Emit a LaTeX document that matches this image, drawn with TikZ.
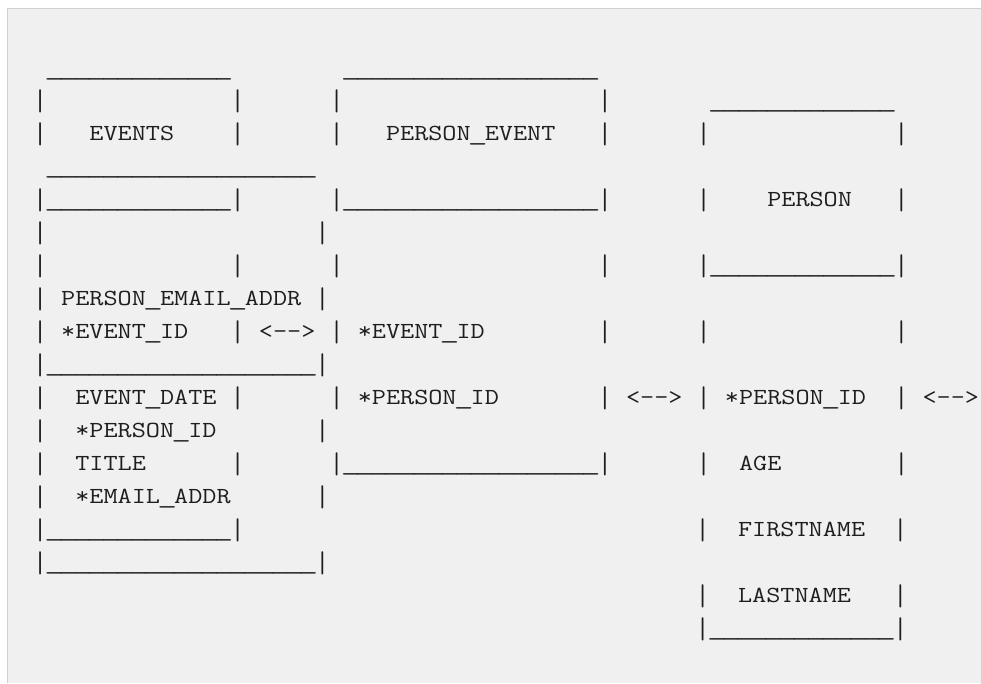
\documentclass[tikz,border=0pt]{standalone}
\usepackage{graphicx}
\usepackage{xcolor}
\definecolor{codebg}{RGB}{240,240,240}
\definecolor{codeframe}{RGB}{208,208,208}
\definecolor{codeink}{RGB}{30,30,30}
% stretch the typewriter letters to the column pitch of the sketch
\newcommand{\asc}[1]{\scalebox{1.1921}[1]{#1}}
% one underscore cell, widened so that a run reads as one line
\newcommand{\us}{\makebox[\fontcharwd\font`\_][c]{\scalebox{1.4}[1]{\_}}}
\newcommand{\uline}[1]{\foreach \k in {1,...,#1}{\us}}
% taller bar, as in the sketch
\newcommand{\vb}{\raisebox{-0.13em}{\scalebox{1}[1.3]{|}}}

\begin{document}
\begin{tikzpicture}[x=1pt, y=-1pt]
\tikzset{ascrow/.style={anchor=base west, inner sep=0pt, outer sep=0pt, text=codeink, font=\ttfamily\fontsize{23}{23}\selectfont}}
\useasboundingbox (0,0) rectangle (981,683);
\fill[white] (0,0) rectangle (981,683);
\fill[codebg] (7,8) rectangle (981,683);
\draw[codeframe, line width=1pt] (7.5,683) -- (7.5,8.5) -- (981,8.5);
\node[ascrow] (r1) at (47.1,75.0) {\asc{\uline{13}~~~~~~~~\uline{18}}};
\node[ascrow] (r2) at (33,107.9) {\asc{\vb~~~~~~~~~~~~~\vb~~~~~~\vb~~~~~~~~~~~~~~~~~~\vb~~~~~~~\uline{13}}};
\node[ascrow] (r3) at (33,140.9) {\asc{\vb~~~EVENTS~~~~\vb~~~~~~\vb~~~PERSON\us EVENT~~~\vb~~~~~~\vb~~~~~~~~~~~~~\vb}};
\node[ascrow] (r4) at (47.1,173.8) {\asc{\uline{19}}};
\node[ascrow] (r5) at (33,206.8) {\asc{\vb\uline{13}\vb~~~~~~\vb\uline{18}\vb~~~~~~\vb~~~~PERSON~~~\vb}};
\node[ascrow] (r6) at (33,239.7) {\asc{\vb~~~~~~~~~~~~~~~~~~~\vb}};
\node[ascrow] (r7) at (33,272.6) {\asc{\vb~~~~~~~~~~~~~\vb~~~~~~\vb~~~~~~~~~~~~~~~~~~\vb~~~~~~\vb\uline{13}\vb}};
\node[ascrow] (r8) at (33,305.6) {\asc{\vb~PERSON\us EMAIL\us ADDR~\vb}};
\node[ascrow] (r9) at (33,338.5) {\asc{\vb~*EVENT\us ID~~~\vb~<-\kern0pt->~\vb~*EVENT\us ID~~~~~~~~\vb~~~~~~\vb~~~~~~~~~~~~~\vb}};
\node[ascrow] (r10) at (33,371.5) {\asc{\vb\uline{19}\vb}};
\node[ascrow] (r11) at (33,404.4) {\asc{\vb~~EVENT\us DATE~\vb~~~~~~\vb~*PERSON\us ID~~~~~~~\vb~<-\kern0pt->~\vb~*PERSON\us ID~~\vb~<-\kern0pt->}};
\node[ascrow] (r12) at (33,437.3) {\asc{\vb~~*PERSON\us ID~~~~~~~\vb}};
\node[ascrow] (r13) at (33,470.3) {\asc{\vb~~TITLE~~~~~~\vb~~~~~~\vb\uline{18}\vb~~~~~~\vb~~AGE~~~~~~~~\vb}};
\node[ascrow] (r14) at (33,503.2) {\asc{\vb~~*EMAIL\us ADDR~~~~~~\vb}};
\node[ascrow] (r15) at (33,536.2) {\asc{\vb\uline{13}\vb}};
\node[ascrow] (r15b) at (695.7,536.2) {\asc{\vb~~FIRSTNAME~~\vb}};
\node[ascrow] (r16) at (33,569.1) {\asc{\vb\uline{19}\vb}};
\node[ascrow] (r17) at (695.7,602.0) {\asc{\vb~~LASTNAME~~~\vb}};
\node[ascrow] (r18) at (695.7,635.0) {\asc{\vb\uline{13}\vb}};
\end{tikzpicture}
\end{document}
